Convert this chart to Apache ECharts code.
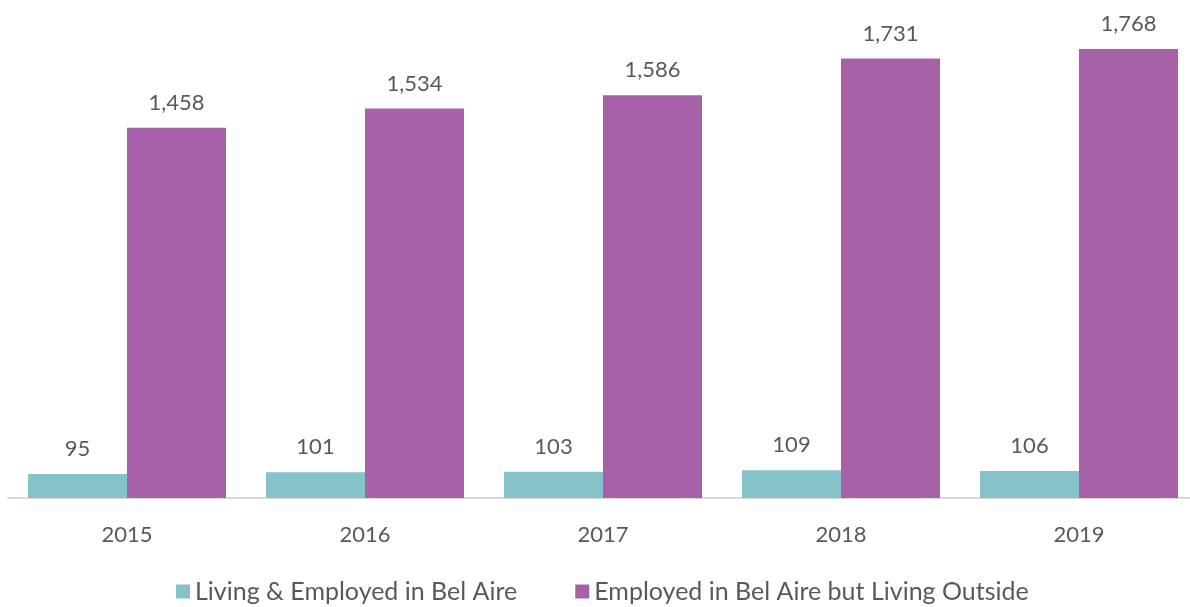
<!DOCTYPE html>
<html lang="en">
<head>
	<meta charset="utf-8" />
	<title>Bel Aire Employment</title>
	<style>
		html, body { margin: 0; padding: 0; background: #fff; }
	</style>
</head>
<body>
	<div id="chart" style="width:1190px;height:607px;"></div>
	<script src="https://cdn.jsdelivr.net/npm/echarts@6/dist/echarts.min.js"></script>
	<script>
		var years = ['2015', '2016', '2017', '2018', '2019'];
		var livingEmployed = [95, 101, 103, 109, 106];
		var employedOutside = [1458, 1534, 1586, 1731, 1768];
		var seriesNames = ['Living & Employed in Bel Aire', 'Employed in Bel Aire but Living Outside'];

		var chart = echarts.init(document.getElementById('chart'));
		var textColor = '#595959';
		var fontFamily = 'Lato';

		var labelStyle = {
			show: true,
			position: 'top',
			distance: 14,
			color: textColor,
			fontSize: 22,
			fontFamily: fontFamily,
			formatter: function (p) {
				return p.value.toLocaleString('en-US');
			}
		};

		var option = {
			animation: false,
			grid: {
				left: 8,
				width: 1190,
				top: 41,
				bottom: 109,
				containLabel: false,
				outerBoundsMode: 'none'
			},
			legend: {
				data: seriesNames,
				top: 574,
				left: 171,
				itemWidth: 14,
				itemHeight: 14,
				itemGap: 58,
				icon: 'rect',
				textStyle: { color: textColor, fontSize: 25, fontFamily: fontFamily }
			},
			xAxis: {
				type: 'category',
				data: years,
				axisTick: { show: false },
				axisLine: { lineStyle: { color: '#d9d9d9', width: 2 } },
				axisLabel: { color: textColor, fontSize: 22, fontFamily: fontFamily, margin: 26 }
			},
			yAxis: {
				type: 'value',
				min: 0,
				max: 1800,
				show: false,
				splitLine: { show: false }
			},
			series: [{
				name: seriesNames[0],
				type: 'bar',
				data: livingEmployed,
				barWidth: 99,
				barGap: '0%',
				itemStyle: { color: '#86c2c9' },
				label: labelStyle
			}, {
				name: seriesNames[1],
				type: 'bar',
				data: employedOutside,
				barWidth: 99,
				barGap: '0%',
				itemStyle: { color: '#a661a8' },
				label: labelStyle
			}]
		};
		chart.setOption(option);
	</script>
</body>
</html>
